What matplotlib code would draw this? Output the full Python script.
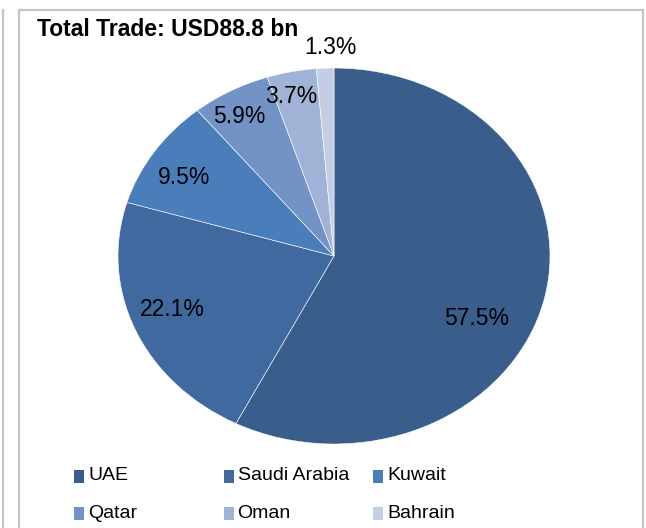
import numpy as np
import matplotlib
matplotlib.use("Agg")
import matplotlib.pyplot as plt
from matplotlib.lines import Line2D
from matplotlib.patches import Rectangle

plt.rcParams["font.family"] = ["Liberation Sans", "DejaVu Sans"]

# data
countries = ["UAE", "Saudi Arabia", "Kuwait", "Qatar", "Oman", "Bahrain"]
shares = [57.5, 22.1, 9.5, 5.9, 3.7, 1.3]
colors = ["#395E8B", "#4069A0", "#4A7EBB", "#7393C6", "#A0B3D6", "#C3CDE4"]
title = "Total Trade: USD88.8 bn"

# label placement (radius, angle shift in degrees)
lab_r = [0.74, 0.80, 0.81, 0.86, 0.87, 1.11]
lab_shift = [-13.2, -2.2, 2.5, 1.9, 1.7, -1.5]

W, H = 646, 528
fig = plt.figure(figsize=(W / 100, H / 100), dpi=100)

# pie axes (stretched into an ellipse like the original)
cx, cy, rx, ry = 334, 256, 216, 188
ax = fig.add_axes([(cx - rx) / W, 1 - (cy + ry) / H, 2 * rx / W, 2 * ry / H])
wedges, _ = ax.pie(shares, colors=colors, startangle=90, counterclock=False,
                   wedgeprops=dict(edgecolor="white", linewidth=0.4))
ax.set_aspect("auto")
ax.set_xlim(-1, 1)
ax.set_ylim(-1, 1)
ax.axis("off")

for w, v, r, s in zip(wedges, shares, lab_r, lab_shift):
    ang = np.deg2rad((w.theta1 + w.theta2) / 2 + s)
    ax.text(r * np.cos(ang), r * np.sin(ang), f"{v:.1f}%", ha="center", va="center",
            fontsize=16.5, color="black", clip_on=False)

# title
fig.text(37 / W, 1 - 29 / H, title, fontsize=16.5, fontweight="bold", ha="left", va="center")

# frame lines
grey = "#C4C4C4"
fig.add_artist(Line2D([19 / W, 19 / W], [0, 1 - 10 / H], color=grey, lw=1.6))
fig.add_artist(Line2D([643 / W, 643 / W], [0, 1 - 10 / H], color=grey, lw=1.6))
fig.add_artist(Line2D([19 / W, 643 / W], [1 - 10 / H, 1 - 10 / H], color=grey, lw=1.6))
fig.add_artist(Line2D([3 / W, 3 / W], [0, 1 - 10 / H], color=grey, lw=1.6))

# legend
for i, (name, c) in enumerate(zip(countries, colors)):
    col, row = i % 3, i // 3
    x0 = 74 + col * 149.5
    y0 = 476 + row * 37
    fig.add_artist(Rectangle((x0 / W, 1 - (y0 + 6.5) / H), 10 / W, 13 / H,
                             facecolor=c, edgecolor="none", transform=fig.transFigure))
    fig.text((x0 + 14) / W, 1 - y0 / H, name, fontsize=14, ha="left", va="center")

fig.savefig("out.png", dpi=100)
